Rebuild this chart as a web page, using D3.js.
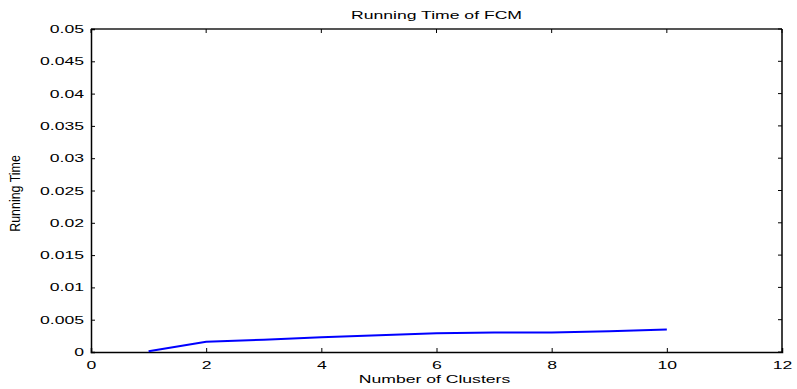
<!DOCTYPE html>
<html>
<head>
<meta charset="utf-8">
<script src="https://cdn.jsdelivr.net/npm/d3@7"></script>
<style>
  body { margin: 0; background: #fff; }
  svg { display: block; font-family: "Liberation Sans", Arial, sans-serif; }
</style>
</head>
<body>
<div id="chart"></div>
<script>
// data
const clusters = [1, 2, 3, 4, 5, 6, 7, 8, 9, 10];
const runningTime = [0.0001, 0.0016, 0.0019, 0.0023, 0.0026, 0.0029, 0.0030, 0.0030, 0.0032, 0.0035];
const xTicks = [0, 2, 4, 6, 8, 10, 12];
const yTicks = [0, 0.005, 0.01, 0.015, 0.02, 0.025, 0.03, 0.035, 0.04, 0.045, 0.05];

const width = 797;
const height = 389;
const marginLeft = 91;
const marginRight = 15;
const marginTop = 29;
const marginBottom = 37;
const innerW = width - marginLeft - marginRight;
const innerH = height - marginTop - marginBottom;

// the original export is stretched sideways
const stretch = 1.6;

const scaleX = d3.scaleLinear().domain([0, 12]).range([0, innerW]);
const scaleY = d3.scaleLinear().domain([0, 0.05]).range([innerH, 0]);

const $svg = d3.select('#chart').append('svg')
    .attr('width', width)
    .attr('height', height);

const $g = $svg.append('g')
    .attr('transform', `translate(${marginLeft}, ${marginTop})`);

// box (top greyish, right thin)
$g.append('line').attr('x1', 0).attr('x2', innerW).attr('y1', 0).attr('y2', 0)
    .attr('stroke', '#555').attr('stroke-width', 2);
$g.append('line').attr('x1', innerW).attr('x2', innerW).attr('y1', 0).attr('y2', innerH)
    .attr('stroke', '#000').attr('stroke-width', 1.5);

// inward ticks on top and right
const $ticks = $g.append('g').attr('stroke', '#000').attr('stroke-width', 1);
xTicks.forEach(t => {
    $ticks.append('line').attr('x1', scaleX(t)).attr('x2', scaleX(t)).attr('y1', 0).attr('y2', 4);
});
yTicks.forEach(t => {
    $ticks.append('line').attr('x1', innerW).attr('x2', innerW - 4).attr('y1', scaleY(t)).attr('y2', scaleY(t));
});

// bottom axis
const $xAxis = $g.append('g')
    .attr('transform', `translate(0, ${innerH})`)
    .call(d3.axisBottom(scaleX).tickValues(xTicks).tickSize(-4).tickPadding(9).tickFormat(d3.format('d')));

// left axis
const $yAxis = $g.append('g')
    .call(d3.axisLeft(scaleY).tickValues(yTicks).tickSize(-4).tickPadding(7).tickFormat(d => d === 0 ? '0' : String(+d.toFixed(3))));

[$xAxis, $yAxis].forEach($a => {
    $a.select('.domain').attr('stroke', '#000').attr('stroke-width', 1.5);
    $a.selectAll('.tick line').attr('stroke', '#000');
    $a.selectAll('.tick text').attr('fill', '#000')
        .style('font-size', '11px')
        .style('font-family', '"Liberation Sans", Arial, sans-serif');
});
$xAxis.selectAll('.tick text').attr('transform', `scale(${stretch}, 1)`);
$yAxis.selectAll('.tick text').attr('x', 0).attr('transform', `translate(-7, 0) scale(${stretch}, 1)`);

// line
const line = d3.line()
    .x((d, i) => scaleX(clusters[i]))
    .y(d => scaleY(d));

$g.append('path')
    .datum(runningTime)
    .attr('fill', 'none')
    .attr('stroke', '#0000ff')
    .attr('stroke-width', 2)
    .attr('d', line);

// title and labels
$svg.append('text')
    .attr('transform', `translate(${marginLeft + innerW / 2}, 19) scale(${stretch}, 1)`)
    .attr('text-anchor', 'middle')
    .style('font-size', '11px')
    .text('Running Time of FCM');

$svg.append('text')
    .attr('transform', `translate(${marginLeft + innerW / 2 - 2}, 383) scale(${stretch}, 1)`)
    .attr('text-anchor', 'middle')
    .style('font-size', '11px')
    .text('Number of Clusters');

$svg.append('text')
    .attr('transform', `translate(20, ${marginTop + innerH / 2 + 3}) rotate(-90) scale(1.13, 1.3)`)
    .attr('text-anchor', 'middle')
    .style('font-size', '11px')
    .text('Running Time');
</script>
</body>
</html>
